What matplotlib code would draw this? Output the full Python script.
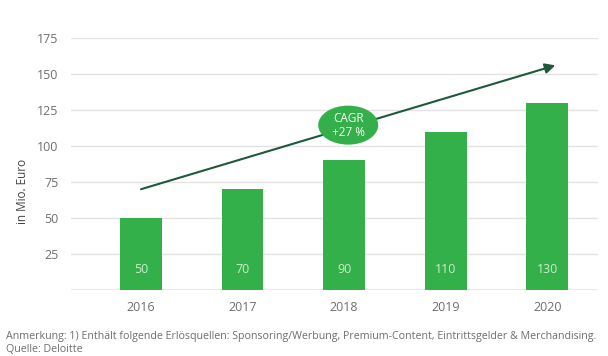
import matplotlib.pyplot as plt
from matplotlib.patches import Ellipse

plt.rcParams['font.family'] = ['Open Sans', 'DejaVu Sans']

# Daten
jahre = ["2016", "2017", "2018", "2019", "2020"]
umsatz = [50, 70, 90, 110, 130]
y_ticks = [25, 50, 75, 100, 125, 150, 175]

gruen = "#33b04a"
dunkelgruen = "#1d5a3c"
grau = "#6e6e6e"

fig = plt.figure(figsize=(6.08, 3.56), dpi=100)
ax = fig.add_axes([71 / 608, 1 - 290 / 356, (598 - 71) / 608, (290 - 38) / 356])

x = range(len(jahre))
ax.bar(x, umsatz, width=0.41, color=gruen, zorder=3)

# Werte in den Balken
for i, wert in enumerate(umsatz):
    ax.text(i, 14, str(wert), ha="center", va="center", fontsize=9, color="#cdeccd", zorder=4)

ax.set_xlim(-0.69, 4.5)
ax.set_ylim(0, 175)
ax.set_xticks(list(x))
ax.set_xticklabels(jahre, fontsize=9, color=grau)
ax.set_yticks(y_ticks)
ax.set_yticklabels([str(t) for t in y_ticks], fontsize=9, color=grau)
ax.tick_params(length=0, pad=9)
ax.tick_params(axis="x", pad=8)

ax.grid(axis="y", color="#e3e3e3", linewidth=1, zorder=0)
ax.axhline(0, color="#e3e3e3", linewidth=1.2, zorder=2)
for s in ax.spines.values():
    s.set_visible(False)

ax.set_ylabel("in Mio. Euro", fontsize=8.5, color="#444444")
ax.yaxis.set_label_coords(-0.08, 0.39)

# CAGR-Pfeil
ax.annotate("", xy=(4.08, 156), xytext=(0, 70),
            arrowprops=dict(arrowstyle="-|>", color=dunkelgruen, lw=1.5,
                            mutation_scale=15, shrinkA=0, shrinkB=0),
            zorder=5, annotation_clip=False)

ell = Ellipse((2.04, 114.5), width=60 / 101.5, height=39 / 1.44,
              facecolor=gruen, edgecolor="none", zorder=6)
ax.add_patch(ell)
ax.text(2.04, 114.5, "CAGR\n+27 %", ha="center", va="center", fontsize=8.5,
        color="white", linespacing=1.1, zorder=7)

# Fußnote
fig.text(6 / 608, 1 - 337 / 356,
         "Anmerkung: 1) Enthält folgende Erlösquellen: Sponsoring/Werbung, Premium-Content, Eintrittsgelder & Merchandising.",
         fontsize=7.7, color=grau, va="center")
fig.text(6 / 608, 1 - 349 / 356, "Quelle: Deloitte", fontsize=7.7, color=grau, va="center")

plt.savefig("out.png", dpi=100)
